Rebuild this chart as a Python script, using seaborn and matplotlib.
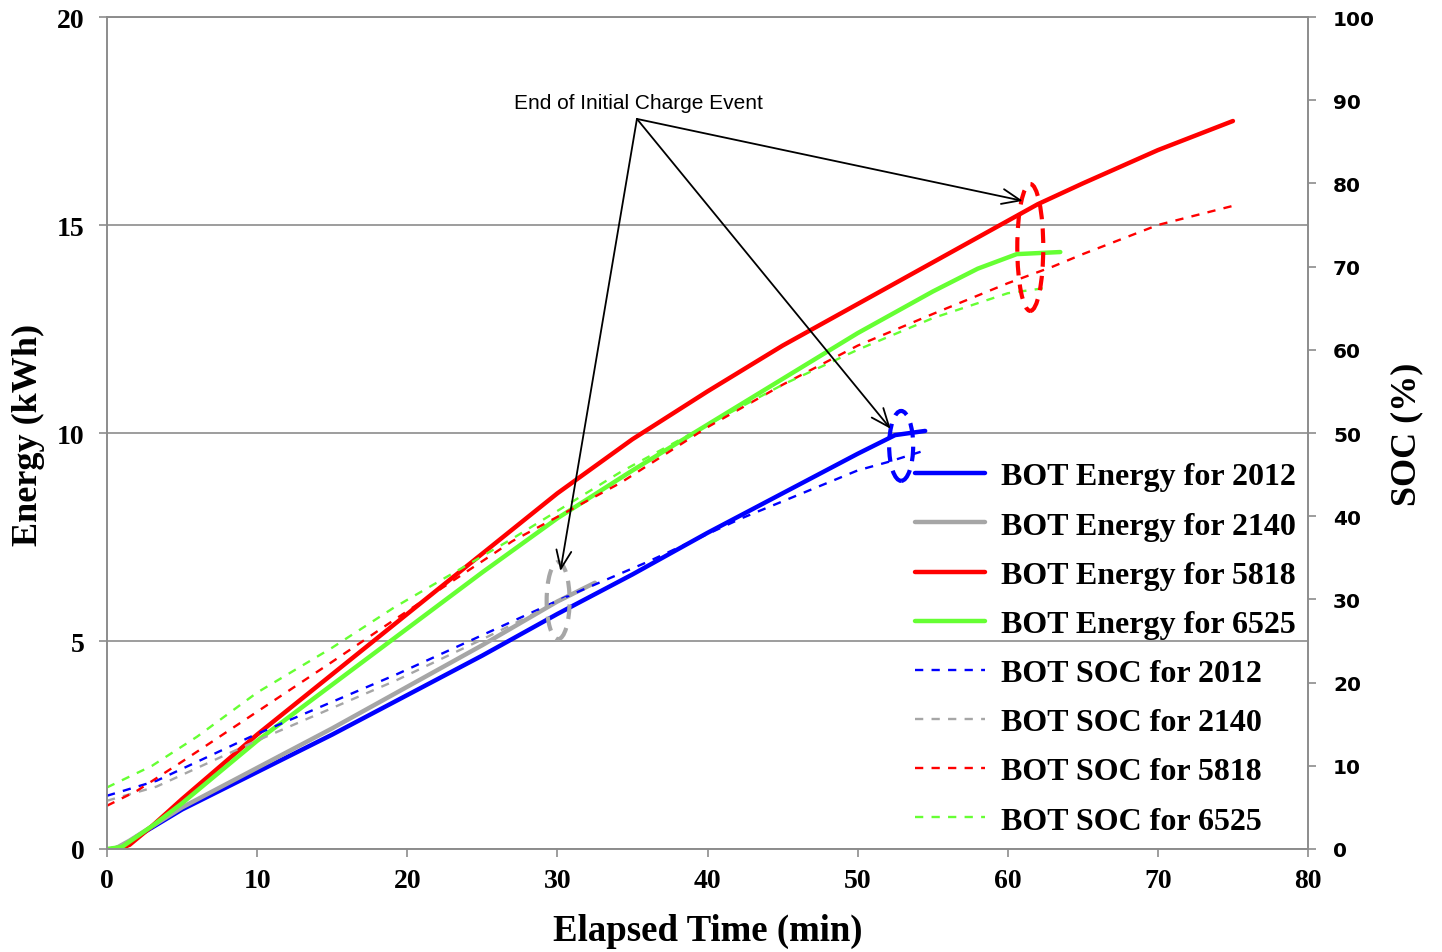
import matplotlib
matplotlib.use("Agg")
import matplotlib.pyplot as plt
from matplotlib.patches import Ellipse
import seaborn as sns
import numpy as np

# ---------------- data ----------------
t_e_2012 = [0.3, 1, 2, 5, 10, 15, 20, 25, 30, 35, 40, 45, 50, 52.5, 54.5]
e_2012 = [0, 0.05, 0.3, 0.95, 1.85, 2.75, 3.7, 4.65, 5.65, 6.6, 7.6, 8.55, 9.5, 9.95, 10.05]

t_e_2140 = [0.5, 1.5, 5, 10, 15, 20, 25, 30, 32.5]
e_2140 = [0, 0.2, 1.0, 1.95, 2.9, 3.9, 4.9, 5.95, 6.4]

t_e_5818 = [0.8, 1.5, 3, 5, 10, 15, 20, 25, 30, 35, 40, 45, 50, 55, 60, 62, 65, 70, 75]
e_5818 = [0, 0.1, 0.55, 1.2, 2.75, 4.2, 5.65, 7.1, 8.55, 9.85, 11.0, 12.1, 13.1, 14.1, 15.1, 15.5, 16.0, 16.8, 17.5]

t_e_6525 = [0, 1, 3, 5, 10, 15, 20, 25, 30, 35, 40, 45, 50, 55, 58, 60.6, 63.5]
e_6525 = [0, 0.05, 0.55, 1.1, 2.6, 3.95, 5.3, 6.65, 7.95, 9.1, 10.2, 11.3, 12.4, 13.4, 13.95, 14.3, 14.35]

t_s_2012 = [0, 3.3, 9.7, 19.3, 30.2, 36, 42.2, 50, 52, 54.3]
s_2012 = [6.4, 8.2, 13.6, 21, 30, 34.5, 39.7, 45.5, 46.5, 47.8]

t_s_2140 = [0, 3.3, 9.7, 19.3, 25, 30.6]
s_2140 = [5.8, 7.5, 12.8, 20.3, 25.2, 30.2]

t_s_5818 = [0, 2, 5, 10, 15, 19.1, 27, 34.2, 40, 45, 50, 55, 60, 63, 65, 70, 75]
s_5818 = [5.2, 7, 10.5, 16.5, 22.5, 27.5, 37, 44, 50.7, 55.8, 60.5, 64.3, 68, 70, 71.5, 75, 77.3]

t_s_6525 = [0, 3, 6, 10, 15, 19.1, 27, 34.2, 40, 45, 50, 55, 60, 62.8]
s_6525 = [7.4, 10, 13.5, 18.8, 24.2, 29, 37.3, 45.3, 51, 55.8, 60, 63.8, 66.8, 67.5]

vehicles = ["2012", "2140", "5818", "6525"]
colors = ["#0000FF", "#A6A6A6", "#FF0000", "#66FF33"]

# end-of-initial-charge markers (time, energy, width, height)
ell_t = [30.05, 52.9, 61.5]
ell_e = [5.97, 9.69, 14.46]
ell_w = [1.53, 1.6, 1.73]
ell_h = [1.85, 1.68, 3.05]
ell_c = ["#A6A6A6", "#0000FF", "#FF0000"]
note_text = "End of Initial Charge Event"
note_xy = (35.3, 17.55)
note_label_xy = (35.4, 17.94)
arrow_tips = [(61.0, 15.58), (52.2, 10.1), (30.2, 6.68)]

x_ticks = list(range(0, 81, 10))
e_ticks = [0, 5, 10, 15, 20]
s_ticks = list(range(0, 101, 10))

# ---------------- plot ----------------
sns.set_theme(style="white")
plt.rcParams["font.family"] = ["Liberation Serif", "DejaVu Serif"]
plt.rcParams["text.color"] = "black"
plt.rcParams["axes.labelcolor"] = "black"
plt.rcParams["xtick.color"] = "black"
plt.rcParams["ytick.color"] = "black"

fig = plt.figure(figsize=(14.42, 9.53), dpi=100)
ax = fig.add_axes([107 / 1442, 1 - 850 / 953, 1201 / 1442, 832 / 953])
ax2 = ax.twinx()

energy_t = [t_e_2012, t_e_2140, t_e_5818, t_e_6525]
energy_v = [e_2012, e_2140, e_5818, e_6525]
soc_t = [t_s_2012, t_s_2140, t_s_5818, t_s_6525]
soc_v = [s_2012, s_2140, s_5818, s_6525]

for veh, c, tx, vy in zip(vehicles, colors, energy_t, energy_v):
    sns.lineplot(x=tx, y=vy, ax=ax, color=c, linewidth=3.2,
                 label=f"BOT Energy for {veh}", sort=False, estimator=None,
                 solid_capstyle="round", solid_joinstyle="round")
for veh, c, tx, vy in zip(vehicles, colors, soc_t, soc_v):
    sns.lineplot(x=tx, y=vy, ax=ax2, color=c, linewidth=1.7,
                 linestyle=(0, (3.5, 3.5)),
                 label=f"BOT SOC for {veh}", sort=False, estimator=None)

ax.set_xlim(0, 80)
ax.set_ylim(0, 20)
ax2.set_ylim(0, 100)
ax.set_xticks(x_ticks)
ax.set_yticks(e_ticks)
ax2.set_yticks(s_ticks)

grid_c = "#8C8C8C"
ax.yaxis.grid(True, color=grid_c, linewidth=1.2)
ax.xaxis.grid(False)
ax2.grid(False)
ax.set_axisbelow(True)

for sp in ["left", "bottom", "right", "top"]:
    ax.spines[sp].set_color(grid_c)
    ax.spines[sp].set_linewidth(1.2)
    ax2.spines[sp].set_color(grid_c)
    ax2.spines[sp].set_linewidth(1.2)

ax.tick_params(axis="both", which="major", direction="out", length=6,
               width=1.2, color=grid_c, labelcolor="black", left=True, bottom=True)
ax.tick_params(axis="y", pad=10, labelsize=20)
ax.tick_params(axis="x", pad=8, labelsize=20)
ax2.tick_params(axis="y", direction="out", length=6, width=1.2, color=grid_c,
                labelcolor="black", right=True, pad=12, labelsize=14.5)

for lab in ax.get_xticklabels() + ax.get_yticklabels():
    lab.set_fontweight("bold")
    lab.set_family(["Liberation Serif"])
for lab in ax2.get_yticklabels():
    lab.set_fontweight("bold")
    lab.set_family(["DejaVu Sans"])

ax.set_xlabel("Elapsed Time (min)", fontsize=26.5, fontweight="bold",
              va="center", ha="center", color="black")
ax.xaxis.set_label_coords((708 - 107) / 1201, (850 - 931) / 832)
ax.set_ylabel("Energy (kWh)", fontsize=26, fontweight="bold",
              va="center", ha="center", color="black")
ax.yaxis.set_label_coords((28 - 107) / 1201, (850 - 435) / 832)
ax2.set_ylabel("SOC (%)", fontsize=26, fontweight="bold",
               va="center", ha="center", rotation=90, color="black")
ax2.yaxis.set_label_coords((1407 - 107) / 1201, (850 - 434) / 832)

# ellipses and annotation (energy coordinates)
for x0, y0, w, h, c in zip(ell_t, ell_e, ell_w, ell_h, ell_c):
    el = Ellipse((x0, y0), w, h, transform=ax.transData, fill=False,
                 edgecolor=c, linewidth=3, linestyle=(0, (3.5, 2.2)), zorder=6)
    ax2.add_patch(el)

ax2.text(note_label_xy[0], note_label_xy[1], note_text, transform=ax.transData,
         ha="center", va="center", fontsize=15,
         family=["Liberation Sans", "DejaVu Sans"], color="black", zorder=7)
for tip in arrow_tips:
    ax2.annotate("", xy=tip, xycoords=ax.transData, xytext=note_xy,
                 textcoords=ax.transData,
                 arrowprops=dict(arrowstyle="->,head_length=1.1,head_width=0.45",
                                 color="black", lw=1.3, shrinkA=0, shrinkB=0),
                 zorder=7)

# legend
h1, l1 = ax.get_legend_handles_labels()
h2, l2 = ax2.get_legend_handles_labels()
if ax.get_legend() is not None:
    ax.get_legend().remove()
if ax2.get_legend() is not None:
    ax2.get_legend().remove()
leg = ax2.legend(h1 + h2, l1 + l2, loc="upper left",
                 bbox_to_anchor=(915 / 1442, 1 - 463 / 953),
                 bbox_transform=fig.transFigure, frameon=False,
                 prop={"family": "Liberation Serif", "weight": "bold", "size": 23},
                 handlelength=2.2, handletextpad=0.5, labelspacing=0.62,
                 borderaxespad=0, borderpad=0)
for txt in leg.get_texts():
    txt.set_color("black")

fig.savefig("out.png", dpi=100, facecolor="white")
